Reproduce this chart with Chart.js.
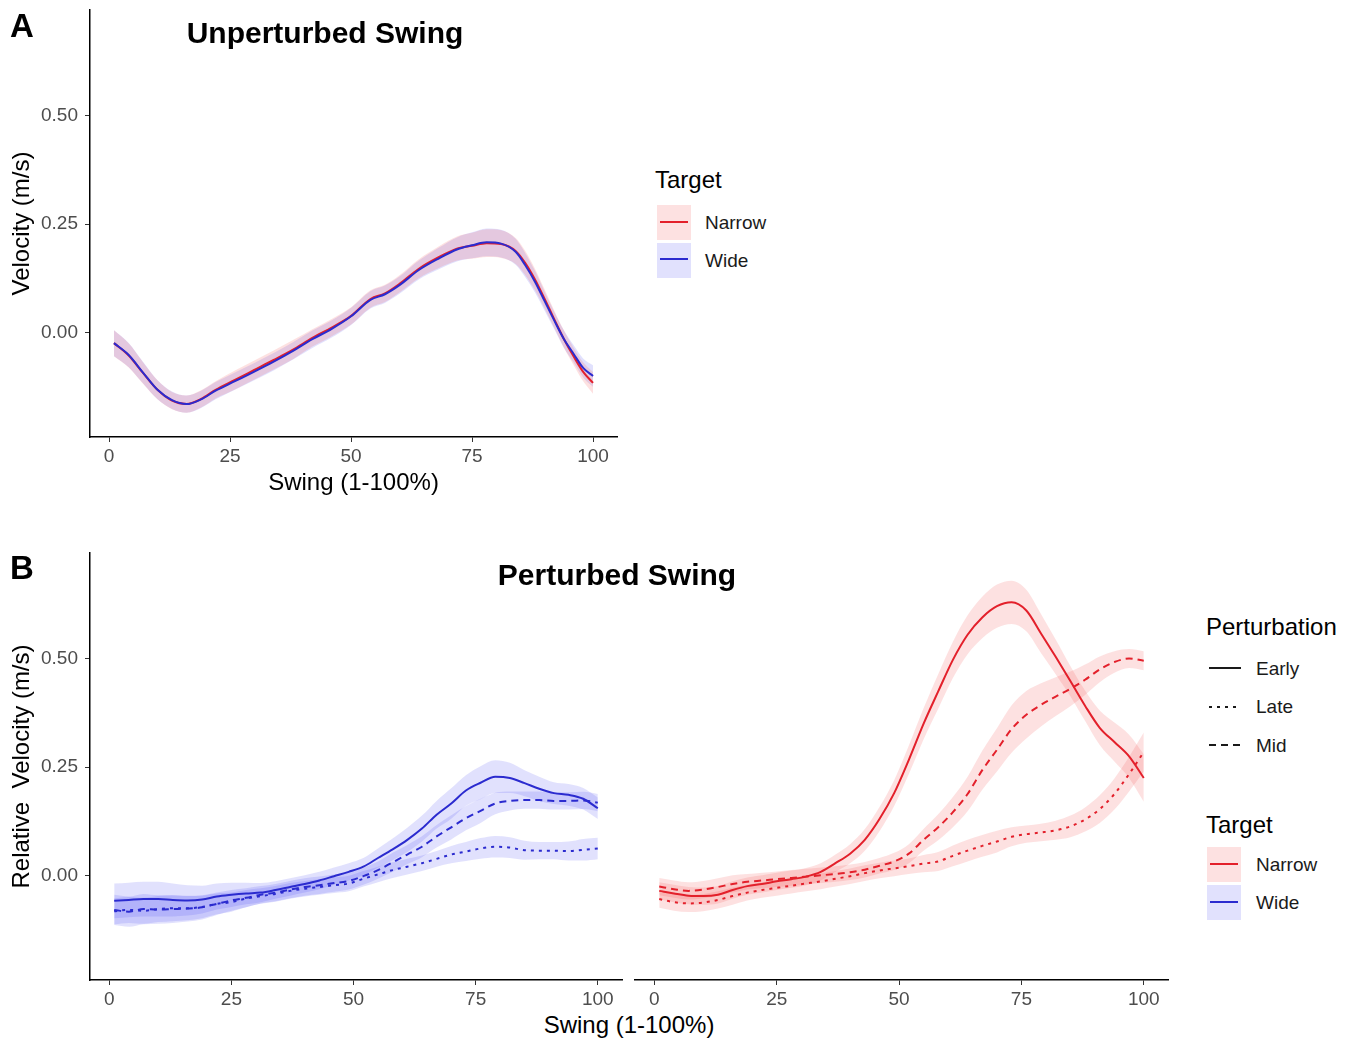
<!DOCTYPE html>
<html>
<head>
<meta charset="utf-8">
<title>Unperturbed and perturbed swing velocity</title>
<script src="https://cdn.jsdelivr.net/npm/chart.js@4.4.1/dist/chart.umd.min.js"></script>
<style>
  body { margin: 0; background: #fff; font-family: "Liberation Sans", Arial, sans-serif; }
  #page { position: relative; width: 1353px; height: 1043px; overflow: hidden; }
  canvas { position: absolute; }
  .txt { position: absolute; line-height: 1; white-space: pre; color: #000; }
  .tag { font-size: 33px; font-weight: bold; }
  .ttl { font-size: 30px; font-weight: bold; text-align: center; width: 400px; }
  .axt { font-size: 24px; text-align: center; width: 400px; }
  .lgt { font-size: 24px; }
  .lgl { font-size: 19px; color: #1a1a1a; }
  svg.key { position: absolute; }
</style>
</head>
<body>
<div id="page">
  <canvas id="chartA" width="640" height="502" style="left:0;top:0"></canvas>
  <canvas id="chartBL" width="630" height="470" style="left:0;top:540px"></canvas>
  <canvas id="chartBR" width="560" height="470" style="left:630px;top:540px"></canvas>

  <div class="txt tag" style="left:10px;top:9px">A</div>
  <div class="txt ttl" style="left:125px;top:18px">Unperturbed Swing</div>
  <div class="txt tag" style="left:10px;top:551px">B</div>
  <div class="txt ttl" style="left:417px;top:560px">Perturbed Swing</div>
  <div class="txt axt" style="left:429px;top:1013px">Swing (1-100%)</div>

  <!-- legend A -->
  <div class="txt lgt" style="left:655px;top:168px">Target</div>
  <svg class="key" style="left:657px;top:205px" width="34" height="35">
    <rect width="34" height="35" fill="rgba(240,70,70,0.16)"/>
    <line x1="3" y1="17" x2="31" y2="17" stroke="#e3202b" stroke-width="2"/>
  </svg>
  <div class="txt lgl" style="left:705px;top:212.7px">Narrow</div>
  <svg class="key" style="left:657px;top:243px" width="34" height="35">
    <rect width="34" height="35" fill="rgba(70,70,240,0.16)"/>
    <line x1="3" y1="16" x2="31" y2="16" stroke="#2b2bcf" stroke-width="2"/>
  </svg>
  <div class="txt lgl" style="left:705px;top:250.7px">Wide</div>

  <!-- legend B -->
  <div class="txt lgt" style="left:1206px;top:615px">Perturbation</div>
  <svg class="key" style="left:1207px;top:650px" width="36" height="110">
    <line x1="2" y1="18" x2="34" y2="18" stroke="#1a1a1a" stroke-width="2"/>
    <line x1="2" y1="57" x2="34" y2="57" stroke="#1a1a1a" stroke-width="2" stroke-dasharray="3 5"/>
    <line x1="2" y1="95" x2="34" y2="95" stroke="#1a1a1a" stroke-width="2" stroke-dasharray="7 5"/>
  </svg>
  <div class="txt lgl" style="left:1256px;top:658.5px">Early</div>
  <div class="txt lgl" style="left:1256px;top:697px">Late</div>
  <div class="txt lgl" style="left:1256px;top:735.5px">Mid</div>

  <div class="txt lgt" style="left:1206px;top:813px">Target</div>
  <svg class="key" style="left:1207px;top:847px" width="34" height="35">
    <rect width="34" height="35" fill="rgba(240,70,70,0.16)"/>
    <line x1="3" y1="17" x2="31" y2="17" stroke="#e3202b" stroke-width="2"/>
  </svg>
  <div class="txt lgl" style="left:1256px;top:855px">Narrow</div>
  <svg class="key" style="left:1207px;top:885px" width="34" height="35">
    <rect width="34" height="35" fill="rgba(70,70,240,0.16)"/>
    <line x1="3" y1="17" x2="31" y2="17" stroke="#2b2bcf" stroke-width="2"/>
  </svg>
  <div class="txt lgl" style="left:1256px;top:893px">Wide</div>
</div>

<script>
// axes
const xTicks = [0, 25, 50, 75, 100];
const yTicks = [0, 0.25, 0.5];
const xRange = [-3.95, 104.95];
const yRange = [-0.242, 0.745];

// panel A : unperturbed swing
const xA = [1, 4, 7, 10, 13, 16, 19, 22, 26, 30, 34, 38, 42, 46, 50, 54, 57, 60, 64, 68, 72, 75, 78, 81, 84, 86, 88, 90, 92, 94, 96, 98, 100];
const narrowA = [-0.025, -0.053, -0.094, -0.133, -0.158, -0.166, -0.154, -0.133, -0.110, -0.087, -0.064, -0.040, -0.013, 0.011, 0.038, 0.077, 0.090, 0.112, 0.147, 0.173, 0.194, 0.200, 0.206, 0.204, 0.188, 0.160, 0.122, 0.077, 0.030, -0.016, -0.056, -0.092, -0.117];
const wideA = [-0.025, -0.052, -0.093, -0.133, -0.157, -0.166, -0.155, -0.135, -0.113, -0.091, -0.068, -0.043, -0.016, 0.008, 0.037, 0.075, 0.088, 0.109, 0.144, 0.170, 0.192, 0.201, 0.208, 0.205, 0.186, 0.155, 0.117, 0.072, 0.027, -0.016, -0.050, -0.083, -0.101];
const narrowABand = [0.03, 0.028, 0.025, 0.022, 0.02, 0.02, 0.02, 0.02, 0.022, 0.022, 0.022, 0.022, 0.02, 0.02, 0.02, 0.02, 0.02, 0.02, 0.022, 0.025, 0.028, 0.03, 0.032, 0.032, 0.03, 0.028, 0.025, 0.022, 0.02, 0.02, 0.02, 0.022, 0.025];
const wideABand = [0.03, 0.028, 0.025, 0.022, 0.02, 0.02, 0.02, 0.02, 0.02, 0.02, 0.02, 0.02, 0.02, 0.02, 0.02, 0.02, 0.02, 0.02, 0.022, 0.025, 0.028, 0.03, 0.032, 0.032, 0.03, 0.028, 0.025, 0.022, 0.02, 0.02, 0.02, 0.022, 0.025];

// panel B : perturbed swing
const xB = [1, 4, 7, 10, 13, 16, 19, 22, 25, 28, 31, 34, 37, 40, 43, 46, 49, 52, 55, 58, 61, 64, 67, 70, 73, 76, 79, 82, 85, 88, 91, 94, 97, 100];
const wideEarly = [-0.059, -0.057, -0.055, -0.055, -0.057, -0.058, -0.056, -0.049, -0.045, -0.042, -0.040, -0.034, -0.027, -0.020, -0.012, -0.002, 0.008, 0.020, 0.040, 0.060, 0.082, 0.108, 0.140, 0.166, 0.196, 0.214, 0.228, 0.225, 0.213, 0.200, 0.190, 0.186, 0.177, 0.155];
const wideMid = [-0.080, -0.084, -0.078, -0.079, -0.078, -0.077, -0.074, -0.066, -0.058, -0.052, -0.045, -0.040, -0.033, -0.027, -0.023, -0.018, -0.013, -0.002, 0.012, 0.030, 0.048, 0.066, 0.090, 0.111, 0.132, 0.149, 0.166, 0.172, 0.174, 0.174, 0.172, 0.172, 0.173, 0.168];
const wideLate = [-0.083, -0.080, -0.082, -0.078, -0.076, -0.076, -0.073, -0.066, -0.062, -0.054, -0.048, -0.043, -0.036, -0.031, -0.027, -0.023, -0.019, -0.008, 0.002, 0.012, 0.020, 0.028, 0.038, 0.048, 0.055, 0.062, 0.066, 0.064, 0.058, 0.057, 0.057, 0.056, 0.059, 0.062];
const narrowEarly = [-0.036, -0.042, -0.047, -0.048, -0.045, -0.034, -0.025, -0.020, -0.014, -0.009, -0.003, 0.008, 0.028, 0.050, 0.082, 0.130, 0.190, 0.267, 0.350, 0.425, 0.498, 0.556, 0.596, 0.622, 0.631, 0.612, 0.559, 0.505, 0.449, 0.392, 0.341, 0.308, 0.275, 0.225];
const narrowMid = [-0.026, -0.032, -0.036, -0.033, -0.027, -0.020, -0.015, -0.012, -0.009, -0.006, -0.003, 0.000, 0.003, 0.007, 0.013, 0.022, 0.032, 0.050, 0.082, 0.111, 0.146, 0.188, 0.243, 0.290, 0.338, 0.371, 0.394, 0.413, 0.431, 0.452, 0.476, 0.493, 0.501, 0.496];
const narrowLate = [-0.055, -0.062, -0.065, -0.063, -0.057, -0.048, -0.040, -0.034, -0.029, -0.024, -0.019, -0.014, -0.008, -0.002, 0.005, 0.011, 0.016, 0.021, 0.027, 0.032, 0.045, 0.057, 0.068, 0.078, 0.089, 0.095, 0.099, 0.104, 0.113, 0.129, 0.153, 0.188, 0.234, 0.285];

const wideEarlyBand = [0.04, 0.04, 0.04, 0.04, 0.038, 0.035, 0.032, 0.03, 0.028, 0.025, 0.022, 0.02, 0.02, 0.02, 0.02, 0.02, 0.02, 0.02, 0.022, 0.025, 0.028, 0.03, 0.032, 0.035, 0.035, 0.038, 0.038, 0.035, 0.03, 0.028, 0.025, 0.025, 0.025, 0.025];
const wideMidBand = [0.035, 0.035, 0.035, 0.033, 0.032, 0.03, 0.028, 0.026, 0.024, 0.022, 0.02, 0.02, 0.02, 0.02, 0.02, 0.02, 0.02, 0.02, 0.02, 0.022, 0.022, 0.024, 0.026, 0.028, 0.028, 0.028, 0.025, 0.022, 0.02, 0.02, 0.02, 0.02, 0.02, 0.02];
const wideLateBand = [0.03, 0.03, 0.03, 0.03, 0.03, 0.028, 0.026, 0.024, 0.022, 0.02, 0.018, 0.018, 0.018, 0.018, 0.018, 0.018, 0.018, 0.018, 0.018, 0.018, 0.018, 0.018, 0.018, 0.02, 0.022, 0.024, 0.025, 0.024, 0.022, 0.02, 0.02, 0.022, 0.025, 0.025];
const narrowEarlyBand = [0.02, 0.02, 0.02, 0.02, 0.02, 0.02, 0.02, 0.02, 0.02, 0.02, 0.02, 0.02, 0.02, 0.022, 0.025, 0.028, 0.03, 0.033, 0.036, 0.04, 0.042, 0.045, 0.048, 0.05, 0.05, 0.048, 0.045, 0.04, 0.035, 0.035, 0.04, 0.045, 0.05, 0.055];
const narrowMidBand = [0.02, 0.02, 0.02, 0.02, 0.02, 0.02, 0.018, 0.018, 0.018, 0.018, 0.018, 0.018, 0.018, 0.018, 0.018, 0.018, 0.02, 0.022, 0.025, 0.03, 0.035, 0.04, 0.045, 0.05, 0.055, 0.055, 0.05, 0.045, 0.04, 0.035, 0.03, 0.025, 0.022, 0.022];
const narrowLateBand = [0.02, 0.02, 0.02, 0.02, 0.02, 0.02, 0.018, 0.018, 0.018, 0.018, 0.018, 0.018, 0.018, 0.018, 0.018, 0.018, 0.018, 0.018, 0.02, 0.022, 0.024, 0.025, 0.025, 0.025, 0.022, 0.02, 0.02, 0.022, 0.025, 0.028, 0.032, 0.036, 0.04, 0.045];

const FONT = '"Liberation Sans", Arial, sans-serif';
const NARROW = '#e3202b';
const WIDE = '#2b2bcf';
const NARROW_FILL = 'rgba(240, 70, 70, 0.16)';
const WIDE_FILL = 'rgba(70, 70, 240, 0.16)';
const DOTTED = [3, 5];
const DASHED = [7, 5];

function pts(xs, ys) {
  return xs.map((x, i) => ({x: x, y: ys[i]}));
}

// lower edge + upper edge filled back to it
function ribbon(xs, mean, half, fillColor) {
  const base = {pointRadius: 0, borderWidth: 0, borderColor: 'rgba(0,0,0,0)', cubicInterpolationMode: 'monotone', order: 2};
  const lo = xs.map((x, i) => ({x: x, y: mean[i] - half[i]}));
  const hi = xs.map((x, i) => ({x: x, y: mean[i] + half[i]}));
  return [
    Object.assign({data: lo, fill: false}, base),
    Object.assign({data: hi, fill: '-1', backgroundColor: fillColor}, base)
  ];
}

function line(xs, ys, color, dash, order) {
  return {
    data: pts(xs, ys), borderColor: color, borderWidth: 2, borderDash: dash,
    pointRadius: 0, fill: false, cubicInterpolationMode: 'monotone', order: order
  };
}

function makeOptions(cfg) {
  return {
    responsive: false,
    animation: false,
    events: [],
    layout: {padding: cfg.pad},
    plugins: {legend: {display: false}, tooltip: {enabled: false}},
    scales: {
      x: {
        type: 'linear', min: xRange[0], max: xRange[1],
        afterBuildTicks: s => { s.ticks = xTicks.map(v => ({value: v})); },
        afterFit: s => { s.height = cfg.xHeight; s.paddingLeft = 0; s.paddingRight = 0; },
        ticks: {font: {family: FONT, size: 19}, color: '#4d4d4d', padding: 3, maxRotation: 0, callback: v => String(v)},
        grid: {drawOnChartArea: false, drawTicks: true, tickLength: 5, color: '#333', lineWidth: 1},
        border: {display: true, color: '#000', width: 1.5},
        title: {
          display: !!cfg.xTitle, text: cfg.xTitle || '', color: '#000',
          font: {family: FONT, size: 24}, padding: {top: 0, bottom: 4.6}
        }
      },
      y: {
        type: 'linear', min: yRange[0], max: yRange[1],
        display: cfg.showY,
        afterBuildTicks: s => { s.ticks = yTicks.map(v => ({value: v})); },
        afterFit: s => {
          s.width = cfg.showY ? 90 : 0;
          s.paddingTop = 0;
          s.paddingBottom = 0;
        },
        ticks: {font: {family: FONT, size: 19}, color: '#4d4d4d', padding: 7, callback: v => v.toFixed(2)},
        grid: {drawOnChartArea: false, drawTicks: true, tickLength: 5, color: '#333', lineWidth: 1},
        border: {display: true, color: '#000', width: 1.5},
        title: {
          display: !!cfg.yTitle, text: cfg.yTitle || '', color: '#000',
          font: {family: FONT, size: 24}, padding: {top: 7.6, bottom: 0}
        }
      }
    }
  };
}

// A
new Chart(document.getElementById('chartA'), {
  type: 'line',
  data: {
    datasets: [].concat(
      ribbon(xA, narrowA, narrowABand, NARROW_FILL),
      ribbon(xA, wideA, wideABand, WIDE_FILL),
      [line(xA, wideA, WIDE, [], 0), line(xA, narrowA, NARROW, [], 1)]
    )
  },
  options: makeOptions({pad: {left: 0, right: 23, top: 10, bottom: 0}, xHeight: 65, showY: true,
    xTitle: 'Swing (1-100%)', yTitle: 'Velocity (m/s)'})
});

// B, Wide facet
new Chart(document.getElementById('chartBL'), {
  type: 'line',
  data: {
    datasets: [].concat(
      ribbon(xB, wideEarly, wideEarlyBand, WIDE_FILL),
      ribbon(xB, wideMid, wideMidBand, WIDE_FILL),
      ribbon(xB, wideLate, wideLateBand, WIDE_FILL),
      [line(xB, wideEarly, WIDE, [], 0), line(xB, wideMid, WIDE, DASHED, 0), line(xB, wideLate, WIDE, DOTTED, 0)]
    )
  },
  options: makeOptions({pad: {left: 0, right: 8, top: 13, bottom: 0}, xHeight: 30, showY: true,
    yTitle: 'Relative  Velocity (m/s)'})
});

// B, Narrow facet
new Chart(document.getElementById('chartBR'), {
  type: 'line',
  data: {
    datasets: [].concat(
      ribbon(xB, narrowEarly, narrowEarlyBand, NARROW_FILL),
      ribbon(xB, narrowMid, narrowMidBand, NARROW_FILL),
      ribbon(xB, narrowLate, narrowLateBand, NARROW_FILL),
      [line(xB, narrowEarly, NARROW, [], 0), line(xB, narrowMid, NARROW, DASHED, 0), line(xB, narrowLate, NARROW, DOTTED, 0)]
    )
  },
  options: makeOptions({pad: {left: 5, right: 22, top: 13, bottom: 0}, xHeight: 30, showY: false})
});
</script>
</body>
</html>
